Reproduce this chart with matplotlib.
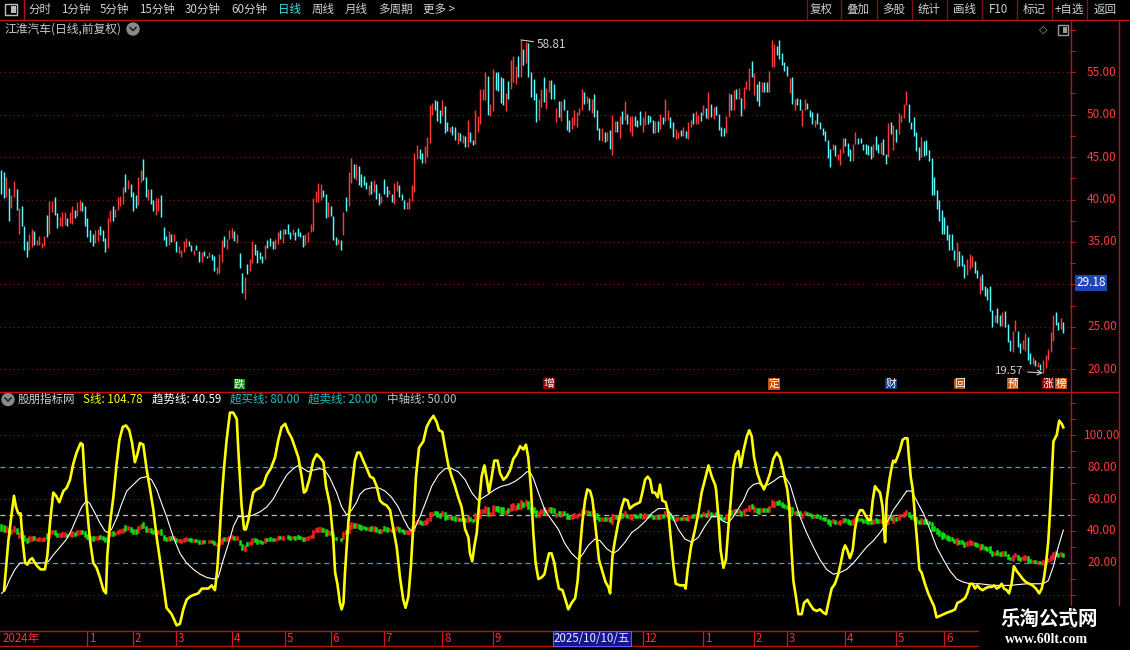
import matplotlib
matplotlib.use("Agg")
import matplotlib.pyplot as plt
import matplotlib.transforms as mtransforms
from matplotlib.patches import Rectangle, Circle
import numpy as np

plt.rcParams['font.family'] = ['Noto Sans CJK SC', 'DejaVu Sans']

# ---------------- data ----------------
# daily candles (open, close), one per trading day
bars = [
    (43.5,40.7),(43.2,40.2),(40.3,42.6),(41.4,37.5),(39.0,40.5),(40.3,42.2),(41.2,38.8),(36.0,39.0),(39.2,36.9),(36.9,34.1),
    (35.1,33.2),(34.0,36.0),(34.4,36.5),(36.3,34.7),(34.6,35.2),(34.6,35.7),(34.3,34.9),(34.5,35.7),(38.2,35.6),(36.0,39.8),
    (38.5,39.8),(40.3,38.2),(38.4,36.7),(36.9,38.0),(36.9,38.5),(37.0,38.5),(37.8,36.9),(37.2,38.5),(37.1,39.2),(38.8,37.8),
    (38.1,39.7),(38.6,39.9),(39.7,38.6),(39.2,36.9),(37.8,35.6),(36.4,35.0),(36.0,34.5),(34.9,36.4),(35.1,36.5),(36.9,35.8),
    (36.4,35.1),(35.5,33.8),(34.3,37.8),(37.3,38.8),(39.2,37.5),(37.9,38.9),(38.8,40.3),(39.3,40.4),(39.5,41.5),(43.0,40.9),
    (41.2,42.3),(41.8,40.3),(40.9,38.6),(40.5,39.0),(39.4,42.6),(42.1,43.5),(44.8,42.3),(42.6,40.3),(39.9,41.3),(41.3,39.5),
    (39.9,38.6),(38.2,40.2),(38.6,40.2),(40.5,37.9),(36.8,35.2),(35.7,34.5),(34.6,36.3),(36.0,35.0),(35.1,36.0),(35.1,33.8),
    (33.7,34.5),(33.2,34.1),(33.8,35.1),(34.4,35.5),(35.1,34.5),(34.7,33.9),(33.5,34.1),(34.6,34.0),(33.9,32.7),(32.7,33.8),
    (33.9,33.3),(33.4,33.1),(33.2,33.8),(33.6,32.9),(33.3,31.6),(31.2,32.0),(31.4,33.6),(32.6,35.2),(35.7,34.4),(34.2,35.4),
    (35.3,36.4),(35.5,36.6),(36.3,35.1),(34.9,36.0),(33.7,31.9),(31.4,29.0),(28.3,30.9),(32.4,31.2),(31.6,33.0),(32.5,35.1),
    (34.8,33.5),(34.1,32.5),(33.8,33.0),(33.3,32.5),(33.0,34.7),(35.2,34.3),(35.5,34.5),(35.1,34.2),(34.2,35.3),(34.8,36.2),
    (36.4,35.4),(34.9,36.5),(36.5,36.0),(37.1,35.9),(36.2,35.3),(35.8,36.5),(36.2,35.2),(36.6,35.7),(36.2,35.6),(35.8,34.4),
    (34.6,35.9),(35.0,36.2),(36.2,37.1),(36.3,40.2),(39.7,41.0),(39.7,42.0),(39.9,41.8),(41.1,40.3),(40.6,37.8),(38.0,39.7),
    (39.3,38.1),(38.1,35.2),(35.6,34.7),(34.8,35.3),(35.2,34.1),(35.8,38.5),(40.3,38.7),(39.3,43.3),(41.9,44.9),(44.2,42.5),
    (42.3,44.2),(44.0,41.7),(43.0,41.5),(42.8,41.7),(42.1,41.3),(40.5,41.7),(42.2,40.7),(40.9,42.3),(41.8,40.1),(40.8,39.4),
    (39.6,40.4),(42.4,40.6),(41.6,40.3),(40.6,41.1),(40.6,39.7),(39.5,41.9),(41.0,42.2),(41.7,40.3),(40.6,40.0),(40.0,38.9),
    (38.9,39.7),(38.9,40.2),(39.8,41.7),(40.9,45.5),(44.8,46.4),(46.0,44.8),(45.5,44.3),(44.3,46.3),(45.0,47.4),(46.7,51.1),
    (50.0,51.4),(51.7,50.5),(51.6,49.3),(50.5,49.0),(49.8,51.7),(51.0,47.8),(49.1,48.1),(48.0,48.6),(48.7,47.6),(48.5,47.0),
    (46.6,48.0),(47.8,46.9),(46.7,47.6),(47.5,46.2),(46.2,49.4),(48.0,46.8),(47.0,46.4),(46.6,50.5),(48.0,49.9),(48.9,53.0),
    (51.7,53.0),(51.7,55.0),(54.6,50.0),(49.9,51.3),(50.4,55.4),(55.0,52.9),(55.0,52.8),(54.4,51.4),(54.3,51.1),(50.4,52.5),
    (54.0,51.9),(53.0,56.5),(53.8,56.9),(53.6,55.7),(56.9,54.4),(54.4,58.81),(57.8,55.9),(56.1,58.6),(58.4,54.4),(55.0,52.1),
    (54.2,51.7),(52.6,49.1),(49.4,51.9),(50.9,53.0),(54.4,51.5),(50.7,53.1),(52.7,54.1),(54.1,51.8),(53.6,51.8),(49.1,50.8),
    (51.6,49.7),(49.3,51.6),(51.9,50.5),(50.6,48.2),(49.4,48.0),(48.3,49.7),(48.8,50.5),(48.6,50.3),(50.0,50.8),(50.6,53.0),
    (52.7,51.3),(51.4,52.2),(52.0,50.5),(50.2,51.9),(52.4,49.7),(50.6,48.2),(48.4,47.0),(46.9,48.4),(48.0,46.8),(46.9,48.0),
    (48.2,46.0),(45.3,50.0),(48.0,49.3),(49.3,48.0),(47.2,49.9),(50.4,48.9),(49.4,51.6),(50.1,48.9),(48.0,49.8),(47.5,49.9),
    (49.9,48.7),(49.4,48.6),(50.4,48.8),(48.0,49.7),(48.8,50.4),(50.0,48.9),(49.9,49.1),(49.4,47.9),(47.9,49.2),(49.3,48.0),
    (48.3,50.1),(49.7,48.9),(49.3,51.9),(49.4,50.6),(49.7,48.4),(49.1,47.4),(47.1,48.3),(47.2,48.0),(48.2,47.5),(47.5,48.6),
    (48.1,47.3),(47.1,49.1),(48.6,49.4),(50.2,48.9),(48.9,50.4),(48.9,50.0),(50.3,49.3),(50.0,51.2),(50.8,49.6),(49.5,52.7),
    (51.3,49.7),(49.5,50.9),(51.0,50.0),(50.1,48.2),(48.6,47.5),(48.4,47.5),(47.9,49.9),(49.7,52.6),(52.4,50.6),(50.6,52.9),
    (53.0,51.8),(51.8,53.2),(52.0,49.9),(50.7,53.3),(53.0,54.0),(52.9,55.5),(56.3,54.5),(52.3,54.9),(53.6,51.6),(54.0,51.0),
    (52.7,53.9),(53.8,52.7),(53.8,52.7),(52.7,55.2),(55.6,58.8),(55.6,58.3),(58.1,57.0),(58.8,56.6),(57.3,55.9),(56.2,55.1),
    (55.7,54.6),(52.6,54.3),(54.4,51.3),(50.6,51.9),(52.0,51.2),(51.8,50.6),(48.7,50.7),(50.6,51.8),(51.4,50.7),(50.6,49.7),
    (50.3,48.9),(48.5,49.4),(50.2,48.9),(49.1,48.3),(48.4,47.6),(48.1,46.9),(47.0,44.9),(46.0,43.8),(45.8,46.6),(46.4,45.1),
    (44.7,45.4),(44.1,46.0),(45.5,47.2),(47.2,46.3),(46.7,45.1),(46.0,44.5),(44.6,46.6),(46.6,48.0),(47.3,46.6),(47.3,46.7),
    (46.6,45.8),(46.6,45.4),(46.4,45.3),(46.3,44.8),(45.0,46.6),(47.5,45.8),(46.6,45.5),(45.4,46.8),(47.1,45.3),(45.4,44.2),
    (45.0,49.0),(49.1,47.7),(45.8,48.8),(48.3,46.8),(47.7,50.2),(49.1,50.0),(49.6,51.3),(51.1,52.8),(51.3,49.1),(49.1,48.3),
    (49.7,47.5),(48.0,45.7),(46.2,44.7),(45.0,47.4),(46.9,45.1),(47.0,45.3),(45.8,44.6),(44.9,40.5),(42.6,40.5),(41.1,38.9),
    (39.9,37.5),(38.8,35.9),(37.9,36.0),(37.0,35.2),(36.0,34.1),(35.9,34.1),(34.1,32.9),(32.1,35.0),(33.9,32.2),(33.5,32.2),
    (32.4,30.7),(31.1,33.0),(31.8,33.6),(32.0,33.3),(32.8,31.4),(31.7,30.8),(28.9,31.0),(31.2,29.3),(29.8,28.6),(29.6,28.2),
    (29.8,26.9),(27.0,25.0),(25.6,26.4),(27.2,25.5),(26.4,25.1),(25.1,26.7),(26.9,25.0),(25.3,23.2),(23.4,22.2),(22.0,24.5),
    (24.5,25.8),(24.5,22.6),(23.1,21.9),(22.4,23.5),(22.2,24.3),(23.8,21.1),(21.9,20.6),(20.6,21.5),(21.1,20.4),(20.3,20.9),
    (20.6,19.9),(19.57,21.1),(20.1,21.7),(21.1,22.4),(22.0,24.4),(23.3,26.4),(26.7,25.2),(25.6,24.6),(24.7,26.0),(25.6,24.3),
]

# S line (yellow): (bar index, value)
s_pts = [
    (1.1,3),(2.8,34),(4.1,51),(5.0,62),(5.8,55),(6.7,51),(7.6,51),(8.4,34),(9.4,20),(10.3,19),(11.3,22),(12.2,23),
    (13.3,20),(14.2,18),(15.5,16),(17.2,16),(18.2,25),(19.2,45),(20.5,64),(21.6,62),(22.9,58),(24.5,65),(25.8,67),
    (27.1,72),(28.4,82),(29.7,89),(31.3,95),(32.1,94),(33.0,70),(33.9,53),(35.0,34),(36.3,20),(37.6,17),(38.9,11),
    (40.3,3),(41.3,1),(41.8,24),(42.9,45),(44.2,61),(45.5,82),(46.6,97),(47.9,105),(49.2,106),(50.5,103),(51.6,95),
    (52.7,83),(53.7,88),(54.7,95),(56.0,94),(57.4,78),(58.7,66),(60.0,53),(61.3,36),(62.6,22),(63.9,7),(65.2,-8),
    (67.2,-12),(69.2,-19),(70.5,-18),(71.8,-9),(73.1,-3),(74.5,-1),(75.8,0),(77.7,1),(79.1,4),(80.4,4),(81.7,4),
    (83.0,6),(84.3,3),(85.2,16),(86.0,34),(86.9,59),(87.9,80),(88.9,97),(90.2,114),(91.5,114),(92.9,110),(93.5,91),
    (94.2,72),(94.8,56),(95.8,41),(96.5,41),(97.5,47),(98.4,56),(99.4,64),(100.7,66),(102.1,67),(103.4,69),(104.7,75),
    (106.3,79),(108.0,86),(109.3,97),(110.6,105),(112.0,107),(113.2,102),(114.6,98),(115.9,92),(117.2,86),(118.5,74),
    (119.4,64),(120.2,65),(121.5,72),(123.1,84),(124.4,88),(125.7,86),(127.1,83),(128.1,68),(129.7,56),(131.0,34),
    (131.7,14),(132.6,7),(133.6,-5),(134.3,-9),(135.0,-5),(135.6,14),(136.9,45),(138.2,66),(139.5,84),(140.5,89),
    (141.5,89),(142.8,84),(144.2,79),(145.5,74),(146.8,73),(148.1,68),(149.4,59),(150.7,57),(152.0,56),(153.4,53),
    (154.7,41),(156.0,30),(157.3,11),(158.6,-3),(159.5,-8),(160.6,-1),(161.6,18),(162.6,45),(163.6,74),(164.8,92),
    (166.5,96),(167.8,105),(169.1,109),(170.5,112),(171.8,108),(172.7,103),(174.0,102),(175.1,92),(176.4,81),(177.7,74),
    (179.0,68),(180.3,61),(181.6,55),(183.0,41),(184.3,36),(184.9,26),(185.8,21),(186.6,30),(187.6,39),(188.5,57),
    (189.5,74),(190.6,81),(191.6,72),(192.4,64),(193.5,74),(194.5,84),(195.8,84),(196.8,76),(198.1,72),(199.4,74),
    (200.7,78),(202.0,85),(203.3,88),(204.7,93),(206.0,91),(207.0,94),(207.9,86),(209.0,66),(209.9,39),(210.8,20),
    (211.9,10),(213.2,11),(214.3,13),(215.2,20),(216.1,26),(217.1,26),(218.2,20),(219.1,11),(220.0,4),(221.4,3),
    (222.4,-2),(223.7,-9),(225.0,-5),(226.4,-2),(227.4,9),(228.3,28),(229.2,45),(230.3,59),(231.2,66),(232.3,65),
    (233.2,60),(234.0,49),(234.9,36),(235.8,22),(237.1,15),(238.4,8),(239.5,5),(240.2,1),(241.1,24),(242.1,34),
    (243.4,45),(244.8,55),(245.8,60),(247.1,59),(248.0,54),(249.4,56),(250.7,57),(252.0,58),(252.9,64),(254.0,72),
    (255.0,74),(256.0,72),(256.9,64),(257.9,64),(259.0,61),(259.9,69),(260.8,59),(262.1,58),(263.2,51),(264.2,34),
    (265.2,18),(266.1,7),(267.8,6),(269.5,6),(270.0,4),(270.8,16),(272.1,30),(273.7,41),(275.0,51),(276.3,64),
    (277.6,72),(279.0,81),(280.3,74),(281.6,69),(282.0,66),(282.9,49),(283.8,28),(284.9,17),(285.9,22),(286.8,41),
    (287.8,59),(288.8,80),(289.9,88),(290.8,90),(291.7,80),(292.8,90),(294.1,99),(295.1,103),(296.1,99),(297.0,86),
    (298.3,76),(299.6,70),(300.9,66),(302.0,70),(303.3,76),(304.6,85),(305.9,89),(307.2,86),(308.3,79),(309.2,72),
    (310.1,66),(310.9,55),(311.7,30),(312.5,9),(313.5,-1),(314.5,-12),(315.8,-12),(316.7,-5),(318.0,-3),(319.1,-6),
    (320.4,-9),(321.7,-10),(323.0,-9),(324.3,-11),(325.4,-12),(326.3,-5),(327.6,4),(328.9,7),(330.2,13),(331.2,20),
    (332.2,28),(332.9,31),(333.8,28),(334.8,23),(335.9,28),(336.8,41),(337.7,49),(338.8,53),(339.8,53),(341.2,49),
    (342.1,47),(343.0,47),(343.8,59),(344.7,68),(345.6,66),(346.7,64),(347.7,55),(348.3,41),(348.7,33),(349.3,59),
    (350.4,72),(351.3,80),(351.9,84),(352.7,83),(353.5,86),(354.6,91),(355.6,97),(356.5,98),(357.5,98),(358.1,86),
    (358.8,74),(359.6,66),(360.5,49),(361.4,32),(362.2,16),(363.1,14),(364.4,7),(365.7,1),(367.1,-4),(368.0,-7),
    (369.0,-14),(370.4,-13),(371.7,-12),(373.2,-11),(375.0,-10),(376.3,-9),(377.2,-5),(378.5,-4),(380.2,-2),(381.1,1),
    (382.2,7),(383.2,7),(384.2,4),(385.1,6),(386.1,4),(387.2,3),(388.1,4),(389.4,5),(390.7,5),(391.7,6),
    (392.7,4),(393.8,5),(394.7,7),(395.6,4),(396.7,3),(397.6,1),(398.6,7),(399.5,18),(400.6,15),(401.6,13),
    (403.0,10),(404.3,8),(405.6,7),(406.9,6),(408.2,4),(409.5,1),(410.5,4),(411.4,11),(412.2,20),(413.1,34),
    (414.0,59),(415.1,96),(416.4,100),(417.4,109),(418.4,107),(419.0,104.78),
]

# trend line (white): (bar index, value)
t_pts = [
    (0.1,1),(1.5,3),(3.4,10),(5.4,16),(7.4,20),(9.4,20),(12.6,20),(16.6,20),(18.6,21),(20.5,25),(23.2,30),(25.8,35),
    (27.8,41),(29.7,48),(31.7,55),(33.7,59),(35.0,57),(37.0,51),(38.9,45),(40.9,40),(42.2,39),(43.5,41),(45.5,48),
    (47.5,57),(49.5,65),(52.1,69),(54.7,73),(57.4,74),(59.3,72),(61.3,66),(63.3,57),(65.2,49),(67.9,36),(70.5,26),
    (73.1,20),(75.8,16),(78.4,13),(81.0,11),(83.7,10),(85.6,11),(87.6,22),(89.6,32),(91.6,43),(93.5,49),(95.5,49),
    (97.5,49),(99.4,50),(102.1,52),(104.7,55),(107.3,60),(110.0,68),(112.6,75),(115.2,79),(117.2,81),(119.2,79),
    (121.1,77),(123.1,78),(125.7,79),(127.7,78),(129.7,73),(132.3,64),(134.3,55),(136.3,50),(138.2,53),(140.2,58),
    (141.5,63),(143.5,66),(146.1,67),(148.8,67),(151.4,65),(154.0,61),(156.6,55),(158.6,48),(160.6,42),(161.9,40),
    (163.2,42),(165.2,49),(167.2,57),(169.8,68),(172.4,75),(175.1,79),(177.7,79),(180.3,77),(183.0,72),(185.6,64),
    (188.2,59),(190.2,61),(192.2,63),(194.8,66),(197.4,68),(200.0,69),(202.7,71),(205.3,74),(207.3,77),(208.6,77),
    (209.9,73),(211.9,64),(214.5,53),(217.1,47),(219.8,41),(222.4,32),(225.0,26),(227.7,22),(229.6,26),(231.6,31),
    (234.2,35),(236.2,34),(238.8,29),(241.5,26),(243.4,28),(246.1,33),(248.7,39),(251.3,42),(254.0,46),(256.6,51),
    (259.2,54),(262.5,54),(264.5,50),(267.1,41),(269.7,35),(272.4,33),(275.0,36),(277.6,43),(280.3,49),(282.9,49),
    (284.9,46),(286.8,45),(288.8,49),(290.8,54),(292.8,59),(294.7,66),(296.7,69),(298.7,70),(300.6,68),(302.6,69),
    (304.6,71),(307.2,74),(309.2,74),(311.2,69),(313.1,59),(315.1,49),(317.7,39),(320.4,30),(323.0,22),(325.6,16),
    (328.3,13),(330.9,14),(333.5,16),(336.2,20),(338.8,25),(341.4,30),(344.1,34),(346.7,39),(349.3,45),(351.9,53),
    (354.6,59),(357.2,65),(359.2,65),(361.1,59),(363.8,51),(366.4,41),(369.0,30),(371.7,22),(374.3,15),(376.9,10),
    (379.6,8),(382.2,7),(386.1,7),(391.4,6),(398.0,6),(404.6,7),(411.1,7),(413.1,9),(415.1,18),(417.0,30),(419.0,40.59),
]

price_ticks = [55, 50, 45, 40, 35, 25, 20]
price_grid = [55, 50, 45, 40, 35, 30, 25, 20]
ind_ticks = [100, 80, 60, 40, 20]
overbought, oversold, midline = 80.00, 20.00, 50.00
last_price_tag = 29.18

month_labels = ['1', '2', '3', '4', '5', '6', '7', '8', '9', '12', '1', '2', '3', '4', '5', '6']
month_idx = [34, 52, 69, 91, 112, 130, 151, 174, 194, 253, 277, 297, 310, 333, 353, 372]
cursor_label = '2025/10/10/五'
cursor_idx = 233

event_marks = [('跌', 94, '#0a8a0a'), ('增', 216, '#8c0000'), ('定', 305, '#c8520a'),
               ('财', 351, '#0f3c78'), ('回', 378, '#b4500a'), ('预', 399, '#d05a10'),
               ('涨', 413, '#8c0000'), ('榜', 418, '#c8520a')]

toolbar_left = [('分时', 28), ('1分钟', 61), ('5分钟', 100), ('15分钟', 139), ('30分钟', 185),
                ('60分钟', 231), ('日线', 278), ('周线', 312), ('月线', 345), ('多周期', 378), ('更多 >', 423)]
toolbar_right = ['复权', '叠加', '多股', '统计', '画线', 'F10', '标记', '+自选', '返回']
toolbar_right_x = [821, 858, 894, 929, 964, 999, 1034, 1069, 1105]
toolbar_sep_x = [807, 841, 877, 912, 947, 982, 1017, 1052, 1087]

# ---------------- figure ----------------
W, H = 1130, 650
fig = plt.figure(figsize=(W / 100, H / 100), dpi=100, facecolor='black')
ax0 = fig.add_axes([0, 0, 1, 1])
ax0.set_xlim(0, W)
ax0.set_ylim(H, 0)
ax0.axis('off')


def px_axes(x0, y0, x1, y1):
    a = fig.add_axes([x0 / W, 1 - y1 / H, (x1 - x0) / W, (y1 - y0) / H])
    a.set_facecolor('none')
    a.axis('off')
    return a


N = len(bars)
sp = 1062 / (N - 1)          # pixels per bar
axp = px_axes(0, 20, 1070, 391)
axi = px_axes(0, 392, 1070, 630)
for a in (axp, axi):
    a.set_xlim(-1.3 / sp, (1070 - 1.3) / sp)
axp.set_ylim(17.44, 61.16)
axi.set_ylim(-21.9, 126.9)

RED = '#ff3a3a'
CYAN = '#55ffff'
GRID = '#9a1212'
AXRED = '#b81414'

# price grid + candles
for p in price_grid:
    axp.axhline(p, color=GRID, ls=(0, (1, 3)), lw=0.8)
idx = np.arange(N)
o = np.array([b[0] for b in bars])
c = np.array([b[1] for b in bars])
up = c >= o
lo = np.minimum(o, c)
hi = np.maximum(o, c)
axp.vlines(idx[up], lo[up], hi[up], color=RED, lw=1.05)
axp.vlines(idx[~up], lo[~up], hi[~up], color=CYAN, lw=1.05)

# indicator grid
for v in [100, 60, 40, 0]:
    axi.axhline(v, color=GRID, ls=(0, (1, 3)), lw=0.8)
for v in [overbought, oversold]:
    axi.axhline(v, color='#1fb5b5', ls=(0, (4, 3)), lw=0.9)
axi.axhline(midline, color='#bdbdbd', ls=(0, (4, 3)), lw=0.9)

# price candles repeated inside indicator
axi.vlines(idx[up], lo[up], hi[up], color='#ff2020', lw=1.8, capstyle='projecting')
axi.vlines(idx[~up], lo[~up], hi[~up], color='#10e010', lw=1.8, capstyle='projecting')

tx, ty = zip(*t_pts)
sx, sy = zip(*s_pts)
axi.plot(tx, ty, color='white', lw=0.8)
axi.plot(sx, sy, color='#ffff00', lw=1.9, solid_joinstyle='round')

# right axis labels
trans_p = mtransforms.blended_transform_factory(axp.transAxes, axp.transData)
trans_i = mtransforms.blended_transform_factory(axi.transAxes, axi.transData)
lx = 1102 / 1070
for p in price_ticks:
    axp.text(lx, p, f'{p:.2f}', transform=trans_p, color='#ff3c3c', fontsize=8.5,
             ha='center', va='center', clip_on=False)
for k in np.arange(20, 60.1, 2.5):
    axp.plot([1.0, 1.005], [k, k], transform=trans_p, color=AXRED, lw=0.8, clip_on=False)
for v in ind_ticks:
    axi.text(lx, v, f'{v:.2f}', transform=trans_i, color='#ff3c3c', fontsize=8.5,
             ha='center', va='center', clip_on=False)
for k in range(-20, 121, 10):
    axi.plot([1.0, 1.005], [k, k], transform=trans_i, color=AXRED, lw=0.8, clip_on=False)

axp.text(1091 / 1070, last_price_tag + 1.0, f'{last_price_tag:.2f}', transform=trans_p,
         color='white', fontsize=8.5, ha='center', va='center', clip_on=False,
         bbox=dict(boxstyle='square,pad=0.12', fc='#1e46b4', ec='none'))

# high / low annotations
i_hi = int(np.argmax(hi))
axp.annotate(f'{hi[i_hi]:.2f}', xy=(i_hi, hi[i_hi]), xytext=(11, -3), textcoords='offset points',
             color='#cfcfcf', fontsize=8.5, va='center', ha='left',
             arrowprops=dict(arrowstyle='-', color='#cfcfcf', lw=0.8, shrinkA=0, shrinkB=0))
i_lo = int(np.argmin(lo))
axp.annotate(f'{lo[i_lo]:.2f}', xy=(i_lo, lo[i_lo]), xytext=(-14, 1.5), textcoords='offset points',
             color='#cfcfcf', fontsize=8.2, va='center', ha='right',
             arrowprops=dict(arrowstyle='->', color='#cfcfcf', lw=0.8, shrinkA=1, shrinkB=0))

# event markers
trans_px = mtransforms.blended_transform_factory(axp.transData, axp.transAxes)
for lab, i, col in event_marks:
    axp.text(i, 0.019, lab, transform=trans_px, color='white', fontsize=7.8,
             ha='center', va='center', clip_on=False,
             bbox=dict(boxstyle='square,pad=0.04', fc=col, ec='none'))

# ---------------- chrome ----------------
txt = '#d0d0d0'
ax0.plot([0, W], [19.5, 19.5], color=AXRED, lw=1.0)
ax0.add_patch(Rectangle((5, 4), 12, 11, fill=False, ec='#bdbdbd', lw=1.0))
ax0.add_patch(Rectangle((11, 6), 4.5, 7, fc='#bdbdbd', ec='none'))
ax0.plot([23.5, 23.5], [0, 19.5], color=AXRED, lw=1.0)
for lab, x in toolbar_left:
    ax0.text(x, 9.5, lab, color='#3ee0e0' if lab == '日线' else txt, fontsize=8.3,
             ha='left', va='center')
for lab, x in zip(toolbar_right, toolbar_right_x):
    ax0.text(x, 9.5, lab, color=txt, fontsize=8.3, ha='center', va='center')
for x in toolbar_sep_x:
    ax0.plot([x, x], [0, 19.5], color='#7a1414', lw=1.0)

# title row
ax0.text(4, 29, '江淮汽车(日线,前复权)', color='#c8c8c8', fontsize=8.5, ha='left', va='center')
for cx, cy in [(133, 29), (8, 399.5)]:
    ax0.add_patch(Circle((cx, cy), 6, color='#8a8a8a'))
    ax0.plot([cx - 3, cx, cx + 3], [cy - 1.5, cy + 1.5, cy - 1.5], color='#222222', lw=1.2)
ax0.text(1043, 30, '◇', color='#9a9a9a', fontsize=8, ha='center', va='center', family='DejaVu Sans')
ax0.add_patch(Rectangle((1058, 25), 10, 10, fill=False, ec='#9a9a9a', lw=1.0))
ax0.add_patch(Rectangle((1063, 27), 3.5, 6, fc='#9a9a9a', ec='none'))

# frame lines
ax0.plot([0, 1118], [391.5, 391.5], color='#c01010', lw=1.0)
ax0.plot([1070.5, 1070.5], [20, 646], color=AXRED, lw=1.0)
ax0.plot([1118.5, 1118.5], [20, 650], color=AXRED, lw=1.0)

# indicator header
header = [(18, '股朋指标网', '#d0d0d0'),
          (83, f'S线: {s_pts[-1][1]:.2f}', '#ffff00'),
          (152, f'趋势线: {t_pts[-1][1]:.2f}', '#ffffff'),
          (230, f'超买线: {overbought:.2f}', '#1fc0c0'),
          (308, f'超卖线: {oversold:.2f}', '#1fc0c0'),
          (387, f'中轴线: {midline:.2f}', '#c0c0c0')]
for x, lab, col in header:
    ax0.text(x, 399.5, lab, color=col, fontsize=8.3, ha='left', va='center')

# date strip
ax0.plot([0, 978], [630.5, 630.5], color=AXRED, lw=1.0)
ax0.plot([0, 978], [645.5, 645.5], color=AXRED, lw=1.0)
trans_d = mtransforms.blended_transform_factory(axi.transData, axi.transAxes)
fy = lambda y: (630 - y) / 238
axi.text(0.3, fy(638.5), '2024年', transform=trans_d, color='#ff3030', fontsize=8.3,
         ha='left', va='center', clip_on=False)
for lab, i in zip(month_labels, month_idx):
    axi.plot([i, i], [fy(631), fy(645)], transform=trans_d, color='#d01818', lw=0.9, clip_on=False)
    axi.text(i + 0.7, fy(638.5), lab, transform=trans_d, color='#ff3030', fontsize=8.3,
             ha='left', va='center', clip_on=False)
axi.text(cursor_idx, fy(638.3), cursor_label, transform=trans_d, color='#e8e8ff', fontsize=8.3,
         ha='center', va='center', clip_on=False,
         bbox=dict(boxstyle='square,pad=0.1', fc='#14148c', ec='#5a5aff', lw=0.8))

# watermark
ax0.add_patch(Rectangle((980, 606), 150, 44, fc='black', ec='none', zorder=5))
ax0.text(1049, 619, '乐淘公式网', color='white', fontsize=14, fontweight='bold',
         ha='center', va='center', zorder=6)
ax0.text(1047, 639.5, 'www.60lt.com', color='white', fontsize=10, fontweight='bold',
         family='Liberation Serif', ha='center', va='center', zorder=6)

fig.savefig('out.png', dpi=100, facecolor='black')
